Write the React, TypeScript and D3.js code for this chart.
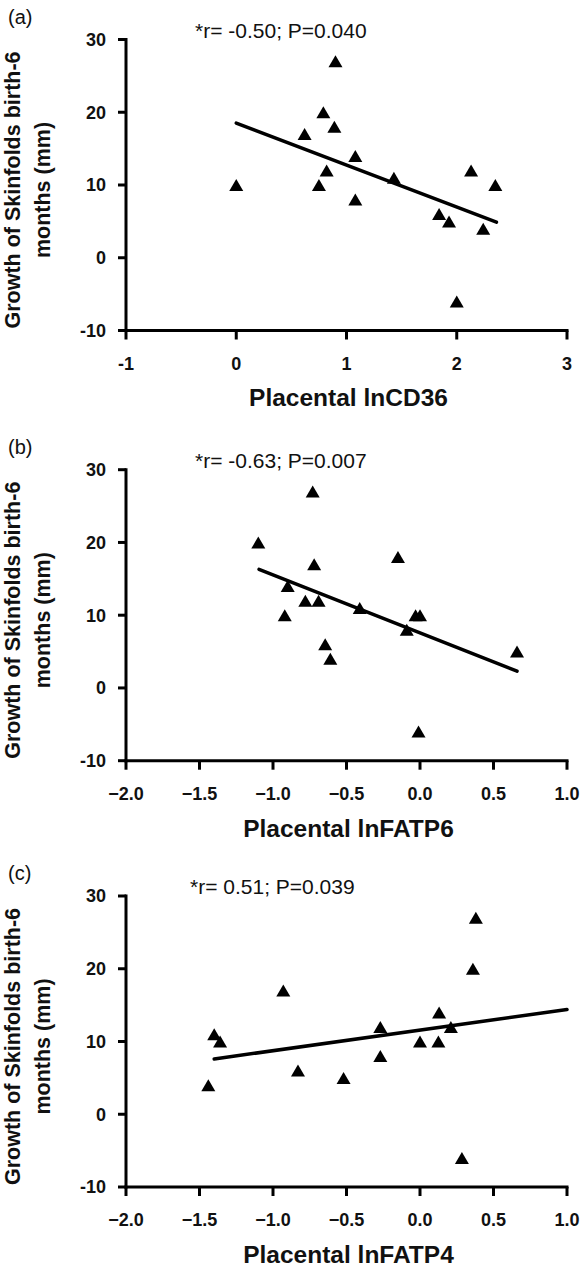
import React from "react";
import * as d3 from "d3";

// ---- data ----
const xA = [0, 0.9, 0.79, 0.89, 0.62, 1.08, 0.82, 0.75, 1.08, 1.43, 2.13, 2.35, 1.84, 1.93, 2.24, 2.0];
const yA = [10, 27, 20, 18, 17, 14, 12, 10, 8, 11, 12, 10, 6, 5, 4, -6];
const fitAx = [0, 2.36];
const fitAy = [18.5, 4.9];

const xB = [-1.1, -0.73, -0.72, -0.9, -0.92, -0.78, -0.69, -0.645, -0.61, -0.41, -0.15, -0.09, -0.03, 0.0, -0.01, 0.66];
const yB = [20, 27, 17, 14, 10, 12, 12, 6, 4, 11, 18, 8, 10, 10, -6, 5];
const fitBx = [-1.095, 0.66];
const fitBy = [16.3, 2.3];

const xC = [-1.44, -1.4, -1.36, -0.93, -0.83, -0.52, -0.27, -0.27, 0.0, 0.125, 0.13, 0.21, 0.285, 0.36, 0.38];
const yC = [4, 11, 10, 17, 6, 5, 12, 8, 10, 10, 14, 12, -6, 20, 27];
const fitCx = [-1.4, 1.0];
const fitCy = [7.6, 14.4];

const yTicks = [-10, 0, 10, 20, 30];
const xTicksA = [-1, 0, 1, 2, 3];
const xTicksB = [-2, -1.5, -1, -0.5, 0, 0.5, 1];

const panelLetters = ["(a)", "(b)", "(c)"];
const statTexts = ["*r= -0.50; P=0.040", "*r= -0.63; P=0.007", "*r= 0.51; P=0.039"];
const xTitles = ["Placental lnCD36", "Placental lnFATP6", "Placental lnFATP4"];
const yTitle1 = "Growth of Skinfolds birth-6";
const yTitle2 = "months (mm)";

const W = 583;
const H = 1271;
const left = 126;
const right = 567;
const tops = [39.5, 469.7, 896];
const plotH = 291;
const FONT = "'Liberation Sans', Arial, Helvetica, sans-serif";

type PanelProps = {
  idx: number;
  xs: number[];
  ys: number[];
  fx: number[];
  fy: number[];
  xDomain: [number, number];
  xTicks: number[];
  xFmt: (v: number) => string;
};

function Panel({ idx, xs, ys, fx, fy, xDomain, xTicks, xFmt }: PanelProps) {
  const top = tops[idx];
  const bottom = top + plotH;
  const x = d3.scaleLinear().domain(xDomain).range([left, right]);
  const y = d3.scaleLinear().domain([-10, 30]).range([bottom, top]);
  const line = d3.line<[number, number]>().x((d) => x(d[0])).y((d) => y(d[1]));
  const fitPts: [number, number][] = fx.map((v, i) => [v, fy[i]]);
  const tw = 14;
  const th = 12;
  const midY = (top + bottom) / 2 + 5;
  return (
    <g>
      <text x={8} y={top - 16} fontFamily={FONT} fontSize={20} fill="#111">
        {panelLetters[idx]}
      </text>
      <text x={idx === 2 ? 190 : 195} y={top - 2} fontFamily={FONT} fontSize={21} fill="#111">
        {statTexts[idx]}
      </text>
      {/* y axis */}
      <line x1={left} x2={left} y1={top - 1.5} y2={bottom + 1.5} stroke="#000" strokeWidth={3} />
      {yTicks.map((t) => (
        <g key={"y" + t}>
          <line x1={left - 8} x2={left} y1={y(t)} y2={y(t)} stroke="#000" strokeWidth={3} />
          <text
            x={left - 20}
            y={y(t)}
            dy="0.36em"
            textAnchor="end"
            fontFamily={FONT}
            fontWeight="bold"
            fontSize={18}
            fill="#111"
          >
            {t}
          </text>
        </g>
      ))}
      {/* x axis */}
      <line x1={left - 1.5} x2={right + 1.5} y1={bottom} y2={bottom} stroke="#000" strokeWidth={3} />
      {xTicks.map((t) => (
        <g key={"x" + t}>
          <line x1={x(t)} x2={x(t)} y1={bottom} y2={bottom + 9} stroke="#000" strokeWidth={3} />
          <text
            x={x(t)}
            y={bottom + 33}
            dy="0.36em"
            textAnchor="middle"
            fontFamily={FONT}
            fontWeight="bold"
            fontSize={18}
            fill="#111"
          >
            {xFmt(t)}
          </text>
        </g>
      ))}
      <text
        x={(left + right) / 2 + 2}
        y={bottom + 67}
        dy="0.36em"
        textAnchor="middle"
        fontFamily={FONT}
        fontWeight="bold"
        fontSize={24.5}
        fill="#111"
      >
        {xTitles[idx]}
      </text>
      {/* y title */}
      <text
        transform={`translate(20,${midY}) rotate(-90)`}
        textAnchor="middle"
        fontFamily={FONT}
        fontWeight="bold"
        fontSize={21.5}
        fill="#111"
      >
        {yTitle1}
      </text>
      <text
        transform={`translate(50,${midY}) rotate(-90)`}
        textAnchor="middle"
        fontFamily={FONT}
        fontWeight="bold"
        fontSize={21.5}
        fill="#111"
      >
        {yTitle2}
      </text>
      {/* fit line */}
      <path d={line(fitPts) || ""} fill="none" stroke="#000" strokeWidth={3.5} strokeLinecap="round" />
      {/* points */}
      {xs.map((v, i) => {
        const cx = x(v);
        const cy = y(ys[i]);
        const p = d3.path();
        p.moveTo(cx, cy - th / 2);
        p.lineTo(cx + tw / 2, cy + th / 2);
        p.lineTo(cx - tw / 2, cy + th / 2);
        p.closePath();
        return <path key={i} d={p.toString()} fill="#000" />;
      })}
    </g>
  );
}

export default function App() {
  const fmtA = (v: number) => String(v);
  const fmtB = (v: number) => d3.format(".1f")(v);
  return (
    <svg
      width={W}
      height={H}
      viewBox={`0 0 ${W} ${H}`}
      style={{ position: "absolute", left: 0, top: 0, background: "#fff" }}
    >
      <rect x={0} y={0} width={W} height={H} fill="#fff" />
      <Panel idx={0} xs={xA} ys={yA} fx={fitAx} fy={fitAy} xDomain={[-1, 3]} xTicks={xTicksA} xFmt={fmtA} />
      <Panel idx={1} xs={xB} ys={yB} fx={fitBx} fy={fitBy} xDomain={[-2, 1]} xTicks={xTicksB} xFmt={fmtB} />
      <Panel idx={2} xs={xC} ys={yC} fx={fitCx} fy={fitCy} xDomain={[-2, 1]} xTicks={xTicksB} xFmt={fmtB} />
    </svg>
  );
}
